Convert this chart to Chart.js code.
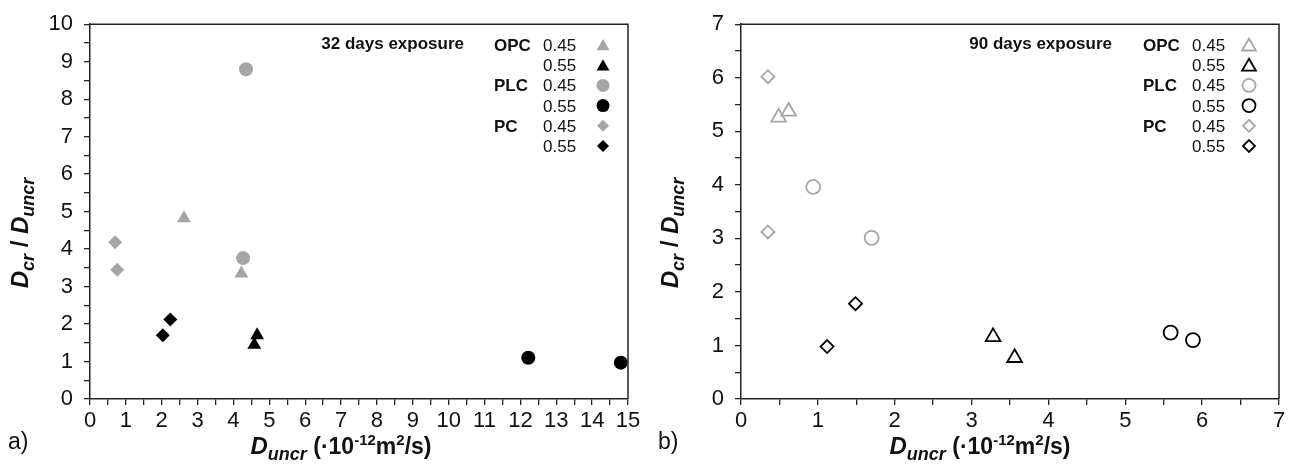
<!DOCTYPE html>
<html>
<head>
<meta charset="utf-8">
<script src="https://cdn.jsdelivr.net/npm/chart.js@4.4.0/dist/chart.umd.min.js"></script>
<style>
  body { margin: 0; background: #fff; }
  #wrap { position: relative; width: 1295px; height: 468px; }
  canvas { position: absolute; top: 0; }
  #chart-a { left: 0; }
  #chart-b { left: 650px; }
</style>
</head>
<body>
<div id="wrap">
  <canvas id="chart-a" width="650" height="468"></canvas>
  <canvas id="chart-b" width="645" height="468"></canvas>
</div>
<script>
// legend rows
const groupNames = ['OPC', '', 'PLC', '', 'PC', ''];
const wcRatios = ['0.45', '0.55', '0.45', '0.55', '0.45', '0.55'];

// a) 32 days exposure  [Duncr, Dcr/Duncr]
const a_opc45 = [[2.62, 4.82], [4.22, 3.35]];
const a_opc55 = [[4.66, 1.70], [4.58, 1.45]];
const a_plc45 = [[4.35, 8.80], [4.27, 3.76]];
const a_plc55 = [[12.22, 1.10], [14.80, 0.97]];
const a_pc45 = [[0.70, 4.18], [0.76, 3.45]];
const a_pc55 = [[2.03, 1.70], [2.24, 2.12]];

// b) 90 days exposure
const b_opc45 = [[0.49, 5.26], [0.62, 5.37]];
const b_opc55 = [[3.28, 1.16], [3.56, 0.77]];
const b_plc45 = [[0.94, 3.96], [1.70, 3.01]];
const b_plc55 = [[5.59, 1.24], [5.88, 1.10]];
const b_pc45 = [[0.35, 6.02], [0.35, 3.12]];
const b_pc55 = [[1.12, 0.98], [1.49, 1.78]];

const gray = '#a6a6a6';
const black = '#000000';

Chart.defaults.font.family = '"Liberation Sans", Arial, sans-serif';
Chart.defaults.color = '#111';

function toPts(arr) {
  return arr.map(p => ({ x: p[0], y: p[1] }));
}

const styles = ['triangle', 'triangle', 'circle', 'circle', 'rectRot', 'rectRot'];
const cols = [gray, black, gray, black, gray, black];
const filledRadii = [8, 8, 7, 7, 7, 7];
const openRadii = [8.5, 8.5, 7, 7, 6.5, 6.5];

// small marker for the legend rows
function marker(ctx, style, x, y, r, color, filled) {
  ctx.beginPath();
  if (style === 'triangle') {
    for (let i = 0; i < 3; i++) {
      const a = i * 2 * Math.PI / 3;
      const px = x + Math.sin(a) * r, py = y - Math.cos(a) * r;
      i ? ctx.lineTo(px, py) : ctx.moveTo(px, py);
    }
    ctx.closePath();
  } else if (style === 'circle') {
    ctx.arc(x, y, r, 0, Math.PI * 2);
  } else {
    ctx.moveTo(x - r, y); ctx.lineTo(x, y - r); ctx.lineTo(x + r, y); ctx.lineTo(x, y + r);
    ctx.closePath();
  }
  if (filled) { ctx.fillStyle = color; ctx.fill(); }
  else { ctx.strokeStyle = color; ctx.lineWidth = 1.8; ctx.stroke(); }
}

function richText(ctx, segs, x, y, rotate) {
  ctx.save();
  ctx.translate(x, y);
  if (rotate) ctx.rotate(-Math.PI / 2);
  let w = 0;
  segs.forEach(s => { ctx.font = s[1]; w += ctx.measureText(s[0]).width; });
  let cx = -w / 2;
  ctx.textAlign = 'left';
  ctx.textBaseline = 'alphabetic';
  ctx.fillStyle = '#111';
  segs.forEach(s => {
    ctx.font = s[1];
    ctx.fillText(s[0], cx, s[2] || 0);
    cx += ctx.measureText(s[0]).width;
  });
  ctx.restore();
}

const ff = '"Liberation Sans", Arial, sans-serif';
const yTitle = [
  ['D', 'italic bold 24px ' + ff], ['cr', 'italic bold 18px ' + ff, 6],
  [' / ', 'bold 24px ' + ff],
  ['D', 'italic bold 24px ' + ff], ['uncr', 'italic bold 18px ' + ff, 6]
];
const xTitle = [
  ['D', 'italic bold 24px ' + ff], ['uncr', 'italic bold 18px ' + ff, 6],
  [' (\u00b710', 'bold 23px ' + ff], ['-12', 'bold 15px ' + ff, -9],
  ['m', 'bold 23px ' + ff], ['2', 'bold 15px ' + ff, -9],
  ['/s)', 'bold 23px ' + ff]
];

const panelPlugin = {
  id: 'panel',
  afterDraw(chart, args, o) {
    const ctx = chart.ctx;
    const ca = chart.chartArea;
    ctx.save();
    // box top and right
    ctx.strokeStyle = '#222';
    ctx.lineWidth = 1.5;
    ctx.beginPath();
    ctx.moveTo(ca.left, ca.top);
    ctx.lineTo(ca.right, ca.top);
    ctx.lineTo(ca.right, ca.bottom);
    ctx.stroke();

    // title inside plot
    ctx.fillStyle = '#111';
    ctx.textBaseline = 'alphabetic';
    ctx.font = 'bold 17px ' + ff;
    ctx.textAlign = 'right';
    ctx.fillText(o.title, ca.right - o.titleRight, 49);

    // legend
    const radii = o.filled ? [7.5, 7.5, 6.5, 6.5, 6, 6] : [8, 8, 6.5, 6.5, 6, 6];
    ctx.textAlign = 'left';
    for (let i = 0; i < 6; i++) {
      const by = 51 + i * 20.2;
      if (groupNames[i]) {
        ctx.font = 'bold 17px ' + ff;
        ctx.fillStyle = '#111';
        ctx.fillText(groupNames[i], ca.right - o.groupLeft, by);
      }
      ctx.font = '17px ' + ff;
      ctx.fillStyle = '#111';
      ctx.fillText(wcRatios[i], ca.right - o.valueLeft, by);
      const my = by - 6 + (styles[i] === 'triangle' ? 1.5 : 0);
      marker(ctx, styles[i], ca.right - o.markerX, my, radii[i], cols[i], o.filled);
    }

    // axis titles
    richText(ctx, yTitle, o.yTitleX, 233, true);
    richText(ctx, xTitle, o.xTitleX, 454, false);

    // panel letter
    ctx.font = '23px ' + ff;
    ctx.fillStyle = '#111';
    ctx.textAlign = 'left';
    ctx.fillText(o.letter, o.letterX, 449);
    ctx.restore();
  }
};

function makeSets(filled, s) {
  const radii = filled ? filledRadii : openRadii;
  const names = ['OPC 0.45', 'OPC 0.55', 'PLC 0.45', 'PLC 0.55', 'PC 0.45', 'PC 0.55'];
  return s.map((d, i) => ({
    label: names[i],
    data: toPts(d),
    pointStyle: styles[i],
    pointRadius: radii[i],
    pointHoverRadius: radii[i],
    backgroundColor: filled ? cols[i] : 'rgba(0,0,0,0)',
    borderColor: cols[i],
    pointBorderWidth: filled ? 0 : 1.8,
    showLine: false
  }));
}

function axis(max, isX, width) {
  return {
    type: 'linear',
    min: 0,
    max: max,
    afterFit: s => { if (isX) s.height = 69; else s.width = width; },
    grid: { drawOnChartArea: false, drawTicks: true, tickLength: 6, color: '#222', lineWidth: 1.3 },
    border: { display: true, color: '#222', width: 1.5 },
    ticks: {
      stepSize: 0.5,
      autoSkip: false,
      maxRotation: 0,
      padding: isX ? 3 : 11,
      color: '#111',
      font: { size: 22 },
      callback: v => Math.abs(v - Math.round(v)) < 1e-6 ? String(Math.round(v)) : ''
    }
  };
}

function makeChart(id, sets, filled, xmax, ymax, yw, padRight, o) {
  return new Chart(document.getElementById(id), {
    type: 'scatter',
    data: { datasets: makeSets(filled, sets) },
    options: {
      responsive: false,
      animation: false,
      layout: { padding: { left: 0, right: padRight, top: 21, bottom: 0 } },
      scales: { x: axis(xmax, true), y: axis(ymax, false, yw) },
      plugins: { legend: { display: false }, tooltip: { enabled: false }, panel: o }
    },
    plugins: [panelPlugin]
  });
}

makeChart('chart-a', [a_opc45, a_opc55, a_plc45, a_plc55, a_pc45, a_pc55], true, 15, 10, 90, 22, {
  title: '32 days exposure', titleRight: 164, groupLeft: 134, valueLeft: 85, markerX: 25,
  filled: true, yTitleX: 28, xTitleX: 341, letter: 'a)', letterX: 8
});

makeChart('chart-b', [b_opc45, b_opc55, b_plc45, b_plc55, b_pc45, b_pc55], false, 7, 7, 91, 16, {
  title: '90 days exposure', titleRight: 167, groupLeft: 136, valueLeft: 87, markerX: 30,
  filled: false, yTitleX: 28, xTitleX: 330, letter: 'b)', letterX: 8
});
</script>
</body>
</html>
